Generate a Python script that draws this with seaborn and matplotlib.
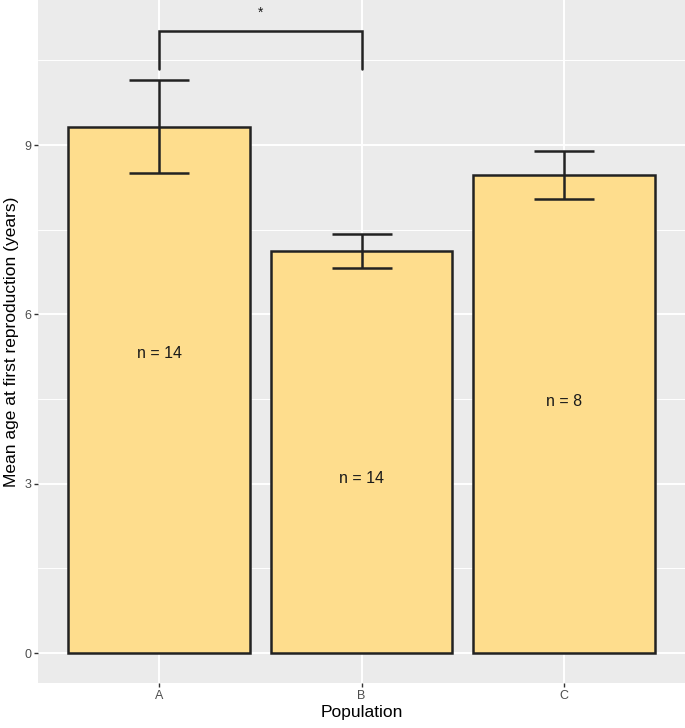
import matplotlib
matplotlib.use("Agg")
import matplotlib.pyplot as plt
import pandas as pd
import seaborn as sns

populations = ["A", "B", "C"]
mean_age = [9.32, 7.12, 8.47]
err_low = [8.50, 6.82, 8.04]
err_high = [10.15, 7.42, 8.89]
n_labels = ["n = 14", "n = 14", "n = 8"]
n_label_y = [5.30, 3.10, 4.45]
sig_pair = ("A", "B")
sig_y = [10.35, 11.02]
sig_text = "*"

df = pd.DataFrame({"Population": populations, "age": mean_age})

sns.set_theme(style="darkgrid", rc={
    "axes.facecolor": "#EBEBEB",
    "grid.color": "white",
    "axes.edgecolor": "#EBEBEB",
})
plt.rcParams["font.family"] = ["Liberation Sans", "DejaVu Sans"]

fig = plt.figure(figsize=(6.85, 7.28), dpi=100)
ax = fig.add_axes([0.0555, 0.0618, 0.9445, 0.9382])

sns.barplot(data=df, x="Population", y="age", color="#FEDD8D", edgecolor="#222222",
            linewidth=1.8, width=0.9, saturation=1, ax=ax, zorder=3)

xs = list(range(len(populations)))
lower = [m - l for m, l in zip(mean_age, err_low)]
upper = [h - m for m, h in zip(mean_age, err_high)]
ax.errorbar(xs, mean_age, yerr=[lower, upper], fmt="none", ecolor="#222222",
            elinewidth=1.8, capsize=21.6, capthick=1.8, zorder=4)

for x, y, t in zip(xs, n_label_y, n_labels):
    ax.text(x, y, t, ha="center", va="center", fontsize=11.5, color="#1a1a1a", zorder=5)

x0 = populations.index(sig_pair[0])
x1 = populations.index(sig_pair[1])
ax.plot([x0, x0, x1, x1], [sig_y[0], sig_y[1], sig_y[1], sig_y[0]],
        color="#222222", lw=1.8, zorder=5, solid_joinstyle="miter")
ax.text((x0 + x1) / 2, sig_y[1] + 0.2, sig_text, ha="center", va="bottom",
        fontsize=10, color="#1a1a1a")

ax.set_xlim(-0.6, 2.6)
ax.set_ylim(-0.53, 11.57)
ax.set_yticks([0, 3, 6, 9])
ax.set_yticks([1.5, 4.5, 7.5, 10.5], minor=True)
ax.grid(which="major", color="white", lw=1.4)
ax.grid(which="minor", axis="y", color="white", lw=0.7)
ax.grid(which="minor", axis="x", visible=False)
ax.set_axisbelow(True)
ax.tick_params(axis="both", which="major", length=3, width=1, color="#333333",
               labelcolor="#4D4D4D", labelsize=9, pad=2, bottom=True, left=True)
ax.tick_params(axis="both", which="minor", length=0)
for s in ax.spines.values():
    s.set_visible(False)

ax.set_xlabel("Population", fontsize=12.5, color="black", labelpad=2)
ax.set_ylabel("Mean age at first reproduction (years)", fontsize=12.5, color="black", labelpad=4)

fig.savefig("out.png", dpi=100)
